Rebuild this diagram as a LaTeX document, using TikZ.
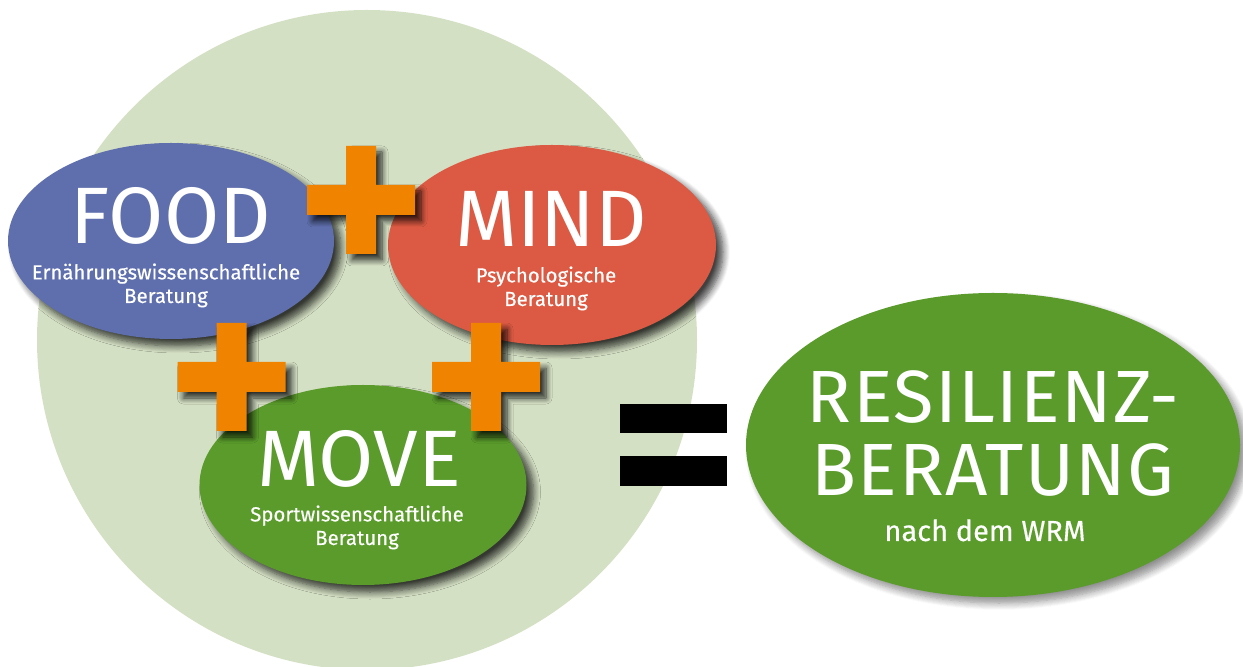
\documentclass[tikz,border=0pt]{standalone}
\usepackage{fontspec}
\setmainfont{Fira Sans}
\newfontfamily\headfont{Fira Sans}[LetterSpace=2]
\newfontfamily\subfont{Fira Sans}[FakeBold=0.4]
\usetikzlibrary{shapes.geometric,shadows.blur}

\definecolor{paleGreen}{HTML}{D4E0C4}
\definecolor{foodBlue}{HTML}{5F6FAD}
\definecolor{mindRed}{HTML}{DC5A43}
\definecolor{moveGreen}{HTML}{5A9B2B}
\definecolor{plusOrange}{HTML}{F08400}

\tikzset{
  bubble/.style={ellipse, inner sep=0pt,
    blur shadow={shadow xshift=3.5pt, shadow yshift=-3.5pt, shadow blur radius=3.5pt, shadow blur steps=8, shadow opacity=75}},
  bigword/.style={text=white, anchor=base, inner sep=0pt, font=\fontsize{40}{40}\selectfont},
  smallword/.style={text=white, anchor=base, inner sep=0pt, align=center, font=\subfont\fontsize{10.2}{11.8}\selectfont},
  plussign/.style={fill=plusOrange,
    blur shadow={shadow xshift=3pt, shadow yshift=-3pt, shadow blur radius=3pt, shadow blur steps=8, shadow opacity=80}}
}

\begin{document}
\begin{tikzpicture}[x=0.5pt,y=-0.5pt]
  \useasboundingbox (0,0) rectangle (1243,667);
  \begin{scope}
    \clip (0,0) rectangle (1243,667);
    \fill[paleGreen] (367,340) circle[radius=165pt];
  \end{scope}

  \node[bubble, fill=foodBlue, minimum width=163pt, minimum height=98pt] (food) at (171,241) {};
  \node[bubble, fill=mindRed, minimum width=164pt, minimum height=100pt] (mind) at (552,245) {};
  \node[bubble, fill=moveGreen, minimum width=163.5pt, minimum height=100pt] (move) at (363,485) {};
  \node[bubble, fill=moveGreen, minimum width=247pt, minimum height=152pt,
    blur shadow={shadow xshift=3pt, shadow yshift=-3pt, shadow opacity=25}] (wrm) at (993,445) {};

  % multi-line nodes sit on the baseline of their last line
  \node[bigword] (foodTitle) at (171,244) {FOOD};
  \node[smallword] (foodSub) at (166,303) {Ernährungswissenschaftliche\\Beratung};
  \node[bigword] (mindTitle) at (551,247) {MIND};
  \node[smallword] (mindSub) at (546,306) {Psychologische\\Beratung};
  \node[bigword] (moveTitle) at (359,487) {MOVE};
  \node[smallword] (moveSub) at (357,545) {Sportwissenschaftliche\\Beratung};

  \node[bigword, align=center, font=\headfont\fontsize{37}{36.5}\selectfont] (wrmTitle) at (993,496) {RESILIENZ-\\BERATUNG};
  \node[text=white, anchor=base, inner sep=0pt, font=\subfont\fontsize{14.5}{14.5}\selectfont] (wrmSub) at (985,541) {nach dem WRM};

  \foreach \cx/\cy in {361/200, 231.5/377, 486/377}
    \fill[plussign, shift={(\cx,\cy)}] (-15,-54) -- (15,-54) -- (15,-15) -- (54,-15) -- (54,15)
      -- (15,15) -- (15,54) -- (-15,54) -- (-15,15) -- (-54,15) -- (-54,-15) -- (-15,-15) -- cycle;

  \fill[black] (620,404) rectangle (727,433);
  \fill[black] (620,456) rectangle (727,486);
\end{tikzpicture}
\end{document}
